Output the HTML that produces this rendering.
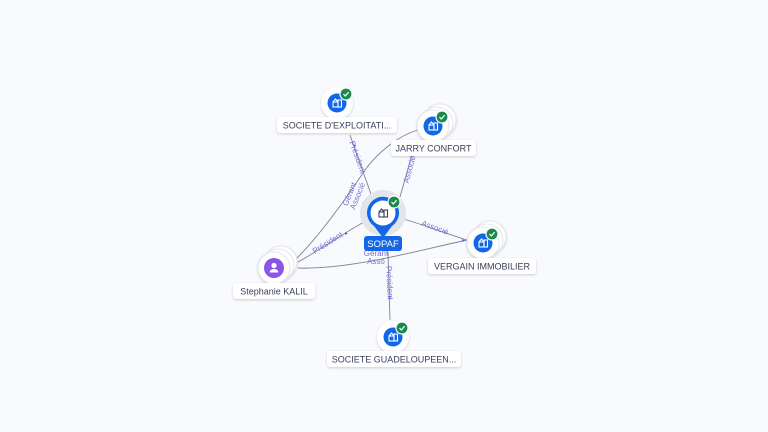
<!DOCTYPE html>
<html><head><meta charset="utf-8"><style>
html,body{margin:0;padding:0;background:#f9fafd;}
svg{display:block;font-family:"Liberation Sans",sans-serif;}
.lb{font-size:9px;fill:#3a3f5c;text-anchor:middle;}
.el{font-size:8px;fill:#7b6fd6;text-anchor:middle;}
.st{stroke:#dde0e8;stroke-width:0.8;}
</style></head><body>
<svg width="768" height="432" viewBox="0 0 768 432">
<defs>
<filter id="sh" x="-50%" y="-50%" width="200%" height="200%"><feDropShadow dx="0" dy="1" stdDeviation="1.2" flood-color="#000" flood-opacity="0.18"/></filter>
<g id="bld"><rect x="-4" y="-1" width="5" height="5" fill="none" stroke="#fff" stroke-width="1.1"/><path d="M-4,-1 L-1.5,-4 L1,-1" fill="none" stroke="#fff" stroke-width="1.1"/><rect x="1" y="-3" width="3.5" height="7" fill="none" stroke="#fff" stroke-width="1.1"/></g>
<g id="chk"><circle r="6" fill="#1a8a4a" stroke="#fff" stroke-width="1.2"/><path d="M-2.5,0 L-0.7,2 L2.6,-1.8" fill="none" stroke="#fff" stroke-width="1.2"/></g>
</defs>
<g fill="none" stroke="#7d8197" stroke-width="0.9">
<path d="M297,258 C320,235 345,200 365,170 C380,150 400,135 418,130"/>
<path d="M350,135 L372,197"/>
<path d="M298,262 C320,250 345,232 366,221"/>
<path d="M298,268 C350,270 420,250 467,240"/>
<path d="M400,197 L416,140"/>
<path d="M400,218 C425,225 450,235 467,240"/>
<path d="M388,252 L390,320"/>
</g>
<g class="el">
<text transform="translate(355,158) rotate(70)">Président</text>
<text transform="translate(352,195) rotate(-68)">Gérant</text>
<text transform="translate(360,197) rotate(-68)">Associé</text>
<text transform="translate(329,245) rotate(-32)">Président</text>
<text transform="translate(412,170) rotate(-75)">Associé</text>
<text transform="translate(434,230) rotate(20)">Associé</text>
<text transform="translate(387,283) rotate(87)">Président</text>
<text x="376" y="256">Gérant</text>
<text x="376" y="264">Asso</text>
</g>
<g fill="#5a6bd6">
<path d="M353,145 l3,0 l-1.5,3z"/><path d="M362,202 l3,0 l-1.5,3z"/><path d="M345,232 l3,1.5 l-3,1.5z"/><path d="M462,239 l3,1.5 l-3,1.5z"/><path d="M388,296 l3,0 l-1.5,3z"/>
</g>
<g filter="url(#sh)"><circle cx="337" cy="103" r="16" fill="#fff"/></g>
<circle cx="337" cy="103" r="9.5" fill="#1167e8"/><use href="#bld" x="337" y="103"/><use href="#chk" x="346" y="94"/>
<g filter="url(#sh)"><rect x="277" y="117" width="120" height="16" rx="3" fill="#fff"/></g>
<text class="lb" x="337" y="128.5">SOCIETE D'EXPLOITATI...</text>
<g filter="url(#sh)"><circle class="st" cx="440" cy="120" r="16" fill="#fff"/><circle class="st" cx="437" cy="123" r="16" fill="#fff"/><circle class="st" cx="433" cy="126" r="16" fill="#fff"/></g>
<circle cx="433" cy="126" r="9.5" fill="#1167e8"/><use href="#bld" x="433" y="126"/><use href="#chk" x="442" y="117"/>
<g filter="url(#sh)"><rect x="391" y="140" width="85" height="16" rx="3" fill="#fff"/></g>
<text class="lb" x="433.5" y="151.5">JARRY CONFORT</text>
<g filter="url(#sh)"><circle class="st" cx="490" cy="237" r="16" fill="#fff"/><circle class="st" cx="487" cy="240" r="16" fill="#fff"/><circle class="st" cx="483" cy="243" r="16" fill="#fff"/></g>
<circle cx="483" cy="243" r="9.5" fill="#1167e8"/><use href="#bld" x="483" y="243"/><use href="#chk" x="492" y="234"/>
<g filter="url(#sh)"><rect x="428" y="258" width="108" height="16" rx="3" fill="#fff"/></g>
<text class="lb" x="482" y="269.5">VERGAIN IMMOBILIER</text>
<g filter="url(#sh)"><circle class="st" cx="281" cy="262" r="16" fill="#fff"/><circle class="st" cx="278" cy="265" r="16" fill="#fff"/><circle class="st" cx="274" cy="268" r="16" fill="#fff"/></g>
<circle cx="274" cy="268" r="10" fill="#8a55e6"/>
<circle cx="274" cy="265.5" r="2.6" fill="#fff"/><path d="M269.5,272.5 a4.5,3.5 0 0 1 9,0z" fill="#fff"/>
<g filter="url(#sh)"><rect x="233" y="283" width="82" height="16" rx="3" fill="#fff"/></g>
<text class="lb" x="274" y="294.5">Stephanie KALIL</text>
<g filter="url(#sh)"><circle cx="393" cy="337" r="16" fill="#fff"/></g>
<circle cx="393" cy="337" r="9.5" fill="#1167e8"/><use href="#bld" x="393" y="337"/><use href="#chk" x="402" y="328"/>
<g filter="url(#sh)"><rect x="327" y="351" width="134" height="16" rx="3" fill="#fff"/></g>
<text class="lb" x="394" y="362.5">SOCIETE GUADELOUPEEN...</text>
<circle cx="383" cy="213" r="23" fill="#e3e5ea"/>
<path d="M383,238 L374,226 A16,16 0 1 1 392,226 Z" fill="#1167e8"/>
<circle cx="383" cy="213" r="12.5" fill="#fff"/>
<g transform="translate(383,213)"><rect x="-4" y="-1" width="5" height="5" fill="none" stroke="#3a3f5c" stroke-width="1.1"/><path d="M-4,-1 L-1.5,-4 L1,-1" fill="none" stroke="#3a3f5c" stroke-width="1.1"/><rect x="1" y="-3" width="3.5" height="7" fill="none" stroke="#3a3f5c" stroke-width="1.1"/></g>
<use href="#chk" x="394" y="202"/>
<rect x="364" y="236" width="38" height="15" rx="3" fill="#1167e8"/>
<text x="383" y="247" style="font-size:9.5px;fill:#fff;text-anchor:middle">SOPAF</text>
</svg>
</body></html>
